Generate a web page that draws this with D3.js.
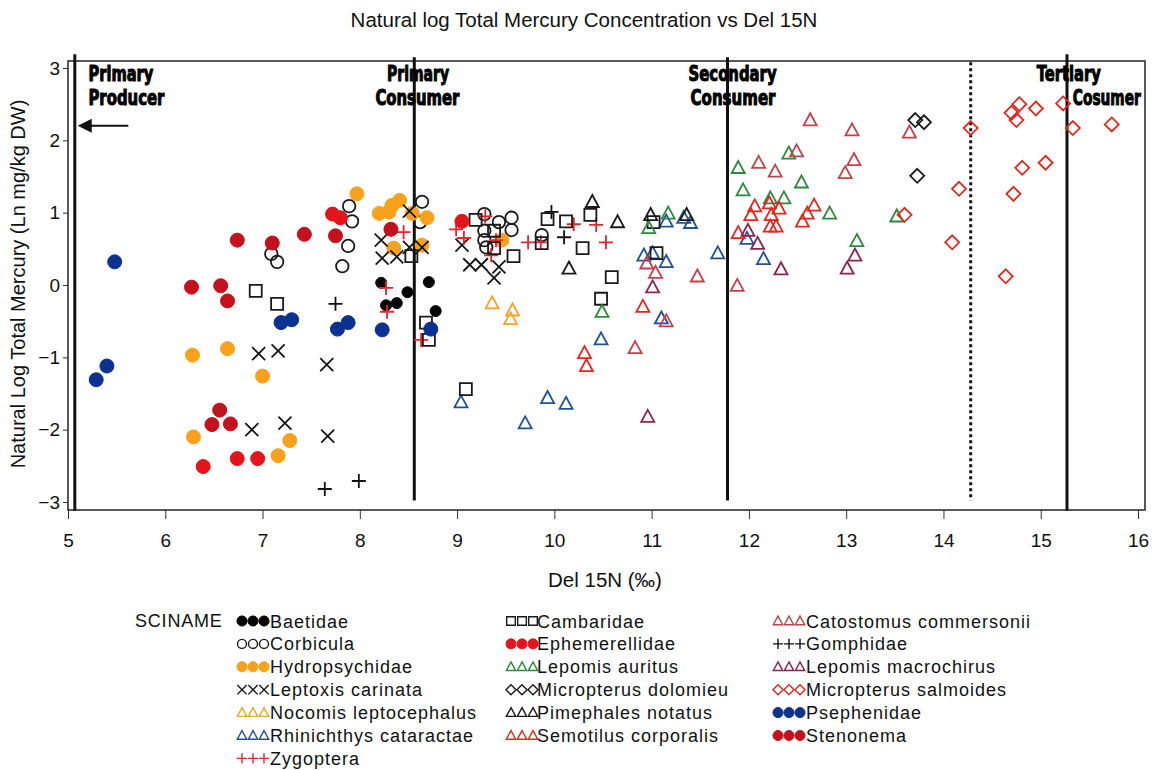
<!DOCTYPE html>
<html>
<head>
<meta charset="utf-8">
<script src="https://cdn.jsdelivr.net/npm/d3@7"></script>
<style>
body { margin: 0; background: #fff; }
text { font-family: "Liberation Sans", Arial, sans-serif; fill: #111; }
</style>
</head>
<body>
<div id="chart"></div>
<script>
// values: [del15N, ln THg]
const baetidae = [[8.22, 0.03], [8.49, -0.10], [8.38, -0.25], [8.27, -0.28], [8.71, 0.04], [8.78, -0.36]]
const corbicula = [[7.09, 0.43], [7.15, 0.32], [7.89, 1.09], [7.92, 0.88], [7.88, 0.54], [7.82, 0.26],
    [8.64, 1.15], [8.62, 0.87], [9.28, 0.98], [9.43, 0.87], [9.56, 0.93], [9.56, 0.76], [9.28, 0.75],
    [9.28, 0.62], [9.30, 0.52], [9.87, 0.69]]
const hydropsychidae = [[6.28, -0.97], [6.64, -0.88], [7.00, -1.26], [6.29, -2.10], [7.28, -2.15], [7.16, -2.36],
    [7.97, 1.26], [8.20, 0.99], [8.33, 1.10], [8.41, 1.17], [8.30, 1.01], [8.54, 0.99], [8.69, 0.93],
    [8.35, 0.51], [8.64, 0.55], [9.46, 0.62]]
const leptoxis = [[6.96, -0.95], [7.16, -0.91], [7.66, -1.10], [6.89, -2.00], [7.23, -1.91], [7.67, -2.09],
    [8.22, 0.62], [8.23, 0.37], [8.38, 0.39], [8.51, 1.02], [8.51, 0.52], [8.64, 0.52], [9.05, 0.55],
    [9.13, 0.28], [9.25, 0.28], [9.43, 0.25], [9.38, 0.10]]
const nocomis = [[9.36, -0.25], [9.57, -0.35], [9.55, -0.47]]
const rhinichthys = [[9.04, -1.62], [9.70, -1.91], [9.93, -1.56], [10.12, -1.64], [10.48, -0.75], [11.15, 0.88],
    [11.33, 0.93], [11.40, 0.86], [10.92, 0.41], [11.01, 0.44], [11.15, 0.32], [11.10, -0.46], [11.68, 0.44],
    [11.98, 0.64], [12.15, 0.36]]
const zygoptera = [[8.27, -0.04], [8.28, -0.37], [8.45, 0.73], [8.99, 0.77], [9.07, 0.65], [9.29, 0.95],
    [9.40, 0.62], [9.35, 0.41], [9.73, 0.59], [9.86, 0.59], [10.20, 0.84], [10.43, 0.83], [10.53, 0.59], [8.63, -0.76]]
const cambaridae = [[6.93, -0.08], [7.15, -0.26], [8.53, 0.40], [8.68, -0.52], [8.71, -0.76], [9.09, -1.44],
    [9.19, 0.90], [9.38, 0.75], [9.38, 0.51], [9.58, 0.40], [9.87, 0.58], [9.93, 0.91], [10.12, 0.88],
    [10.37, 0.97], [10.29, 0.51], [10.59, 0.11], [10.48, -0.19], [11.05, 0.44], [11.02, 0.87]]
const ephemerellidae = [[6.39, -2.51], [6.74, -2.40], [6.95, -2.40], [7.72, 0.98], [7.80, 0.93], [9.05, 0.88]]
const lepomisAuritus = [[10.49, -0.37], [10.97, 0.79], [11.17, 0.99], [11.89, 1.62], [11.94, 1.31], [12.22, 1.20],
    [12.36, 1.20], [12.41, 1.82], [12.54, 1.42], [12.83, 0.99], [13.11, 0.61], [13.52, 0.95]]
const dolomieu = [[13.71, 2.28], [13.80, 2.25], [13.73, 1.51]]
const pimephales = [[10.39, 1.15], [10.65, 0.87], [10.15, 0.23], [10.99, 0.97], [11.36, 0.97]]
const semotilus = [[10.31, -0.94], [10.33, -1.12], [10.91, -0.30], [11.89, 0.72], [12.02, 0.97], [12.06, 1.09],
    [12.21, 1.13], [12.23, 0.97], [12.31, 1.06], [12.22, 0.81], [12.28, 0.81], [12.67, 1.10], [12.60, 0.99], [12.55, 0.88]]
const catostomus = [[12.63, 2.28], [13.06, 2.14], [13.65, 2.11], [12.49, 1.85], [12.10, 1.69], [12.27, 1.57],
    [13.08, 1.73], [12.99, 1.55], [10.95, 0.30], [11.04, 0.17], [11.47, 0.12], [11.88, -0.01], [10.83, -0.87], [11.15, -0.50]]
const gomphidae = [[7.75, -0.26], [7.64, -2.82], [7.99, -2.71], [9.97, 1.01], [10.10, 0.66]]
const macrochirus = [[11.01, -0.03], [11.99, 0.75], [12.09, 0.57], [12.33, 0.22], [13.09, 0.41], [13.01, 0.23], [10.96, -1.82]]
const salmoides = [[14.28, 2.17], [14.16, 1.33], [14.09, 0.59], [13.60, 0.97], [14.78, 2.50], [14.70, 2.38],
    [14.75, 2.28], [14.95, 2.44], [15.23, 2.51], [15.33, 2.17], [15.73, 2.22], [14.81, 1.62], [15.05, 1.69],
    [14.72, 1.26], [14.64, 0.12]]
const psephenidae = [[5.48, 0.32], [5.29, -1.31], [5.40, -1.12], [7.19, -0.52], [7.30, -0.48], [7.77, -0.61],
    [7.88, -0.52], [8.23, -0.62], [8.73, -0.61]]
const stenonema = [[6.74, 0.62], [7.10, 0.58], [7.43, 0.70], [7.75, 0.68], [6.27, -0.03], [6.57, -0.01],
    [6.64, -0.22], [6.56, -1.73], [6.48, -1.93], [6.67, -1.92], [8.32, 0.77]]

const xTicks = [5, 6, 7, 8, 9, 10, 11, 12, 13, 14, 15, 16]
const yTicks = [-3, -2, -1, 0, 1, 2, 3]

// trophic boundaries (x position) and their labels
const boundaries = [
    { x: 5.07, y0: -3.12, y1: 3.19, dotted: false },
    { x: 8.56, y0: -2.98, y1: 3.15, dotted: false },
    { x: 11.78, y0: -2.98, y1: 3.15, dotted: false },
    { x: 14.28, y0: -2.98, y1: 3.08, dotted: true },
    { x: 15.27, y0: -3.12, y1: 3.19, dotted: false }
]
const levelLabels = [
    { text: "Primary", x: 5.21, line: 0, len: 65 },
    { text: "Producer", x: 5.21, line: 1, len: 76 },
    { text: "Primary", x: 8.28, line: 0, len: 62 },
    { text: "Consumer", x: 8.16, line: 1, len: 84 },
    { text: "Secondary", x: 11.38, line: 0, len: 88 },
    { text: "Consumer", x: 11.40, line: 1, len: 85 },
    { text: "Tertiary", x: 14.96, line: 0, len: 64 },
    { text: "Cosumer", x: 15.33, line: 1, len: 68 }
]

// legend order: three columns
const series = [
    { name: "Baetidae", data: baetidae, shape: "circle", fill: true, color: "#050505", col: 0, small: true },
    { name: "Corbicula", data: corbicula, shape: "circle", fill: false, color: "#1a1a1a", col: 0 },
    { name: "Hydropsychidae", data: hydropsychidae, shape: "circle", fill: true, color: "#f9a11b", col: 0 },
    { name: "Leptoxis carinata", data: leptoxis, shape: "x", fill: false, color: "#151515", col: 0 },
    { name: "Nocomis leptocephalus", data: nocomis, shape: "triangle", fill: false, color: "#f2a52c", col: 0 },
    { name: "Rhinichthys cataractae", data: rhinichthys, shape: "triangle", fill: false, color: "#1f5299", col: 0 },
    { name: "Zygoptera", data: zygoptera, shape: "plus", fill: false, color: "#e3262b", col: 0 },
    { name: "Cambaridae", data: cambaridae, shape: "square", fill: false, color: "#1a1a1a", col: 1 },
    { name: "Ephemerellidae", data: ephemerellidae, shape: "circle", fill: true, color: "#e5141c", col: 1 },
    { name: "Lepomis auritus", data: lepomisAuritus, shape: "triangle", fill: false, color: "#2b8a3b", col: 1 },
    { name: "Micropterus dolomieu", data: dolomieu, shape: "diamond", fill: false, color: "#1a1a1a", col: 1 },
    { name: "Pimephales notatus", data: pimephales, shape: "triangle", fill: false, color: "#1a1a1a", col: 1 },
    { name: "Semotilus corporalis", data: semotilus, shape: "triangle", fill: false, color: "#e5261c", col: 1 },
    { name: "Catostomus commersonii", data: catostomus, shape: "triangle", fill: false, color: "#c4414a", col: 2 },
    { name: "Gomphidae", data: gomphidae, shape: "plus", fill: false, color: "#111111", col: 2 },
    { name: "Lepomis macrochirus", data: macrochirus, shape: "triangle", fill: false, color: "#8c2250", col: 2 },
    { name: "Micropterus salmoides", data: salmoides, shape: "diamond", fill: false, color: "#e0281f", col: 2 },
    { name: "Psephenidae", data: psephenidae, shape: "circle", fill: true, color: "#0b3290", col: 2 },
    { name: "Stenonema", data: stenonema, shape: "circle", fill: true, color: "#c3121d", col: 2 }
]

let width = 1158,
    height = 770

let frame = { left: 68, right: 1145, top: 61, bottom: 510 }

let x = d3.scaleLinear().domain([5, 16]).range([68, 1138])
let y = d3.scaleLinear().domain([-3, 3]).range([502, 68])

function markerPath(shape, s) {
    let h = s / 2
    if (shape === "circle") {
        return "M" + (-h) + ",0A" + h + "," + h + " 0 1,0 " + h + ",0A" + h + "," + h + " 0 1,0 " + (-h) + ",0Z"
    }
    if (shape === "triangle") {
        return "M0," + (-h * 1.05) + "L" + h + "," + (h * 0.8) + "L" + (-h) + "," + (h * 0.8) + "Z"
    }
    if (shape === "square") {
        return "M" + (-h) + "," + (-h) + "H" + h + "V" + h + "H" + (-h) + "Z"
    }
    if (shape === "diamond") {
        return "M0," + (-h) + "L" + h + ",0L0," + h + "L" + (-h) + ",0Z"
    }
    if (shape === "plus") {
        return "M" + (-h) + ",0H" + h + "M0," + (-h) + "V" + h
    }
    // x
    return "M" + (-h) + "," + (-h) + "L" + h + "," + h + "M" + (-h) + "," + h + "L" + h + "," + (-h)
}

let plotSize = { circle: 14, circleOpen: 12.5, triangle: 13, square: 12, diamond: 14, plus: 14, x: 13 }

function sizeOf(s, legend) {
    let k = s.shape === "circle" && !s.fill ? "circleOpen" : s.shape
    let v = plotSize[k]
    if (s.small && !legend) v = 11
    return legend ? plotSize[k] * 0.72 : v
}

let svg = d3.select("#chart")
    .append("svg")
    .attr("width", width)
    .attr("height", height)

// title
svg.append("text")
    .attr("x", 584)
    .attr("y", 27)
    .attr("text-anchor", "middle")
    .style("font-size", "20.5px")
    .text("Natural log Total Mercury Concentration vs Del 15N")

// frame
svg.append("rect")
    .attr("x", frame.left)
    .attr("y", frame.top)
    .attr("width", frame.right - frame.left)
    .attr("height", frame.bottom - frame.top)
    .attr("fill", "none")
    .attr("stroke", "#222")
    .attr("stroke-width", 1.5)

// x axis: major + minor ticks
let xAxis = d3.axisBottom(x).tickValues(xTicks).tickSize(9).tickFormat(d3.format("d"))
let xMinor = d3.axisBottom(x).tickValues(d3.range(5, 16.01, 0.2)).tickSize(5).tickFormat("")

let gx = svg.append("g").attr("transform", "translate(0," + frame.bottom + ")")
gx.call(xMinor)
gx.call(xAxis)
gx.selectAll(".domain").remove()
gx.selectAll("text").style("font-size", "19px").attr("dy", "1.3em").attr("fill", "#222")
gx.selectAll("line").attr("stroke", "#333")

let yAxis = d3.axisLeft(y).tickValues(yTicks).tickSize(5).tickFormat(d3.format("d"))
let yMinor = d3.axisLeft(y).tickValues(d3.range(-3, 3.01, 0.25)).tickSize(3).tickFormat("")
let gy = svg.append("g").attr("transform", "translate(" + frame.left + ",0)")
gy.call(yMinor)
gy.call(yAxis)
gy.selectAll(".domain").remove()
gy.selectAll("text").style("font-size", "19px").attr("fill", "#222")
gy.selectAll("line").attr("stroke", "#333")

// axis titles
svg.append("text")
    .attr("x", 605)
    .attr("y", 587)
    .attr("text-anchor", "middle")
    .style("font-size", "20.5px")
    .text("Del 15N (\u2030)")

svg.append("text")
    .attr("transform", "translate(25," + 284 + ") rotate(-90)")
    .attr("text-anchor", "middle")
    .style("font-size", "20px")
    .text("Natural Log Total Mercury (Ln mg/kg DW)")

// trophic level boundaries
svg.append("g")
    .selectAll("line")
    .data(boundaries)
    .enter()
    .append("line")
    .attr("x1", function (d) { return x(d.x) })
    .attr("x2", function (d) { return x(d.x) })
    .attr("y1", function (d) { return y(d.y1) })
    .attr("y2", function (d) { return y(d.y0) })
    .attr("stroke", "#111")
    .attr("stroke-width", 3)
    .attr("stroke-dasharray", function (d) { return d.dotted ? "3,3" : null })

// arrow pointing to the primary producers
svg.append("line")
    .attr("x1", x(5.62)).attr("x2", x(5.2))
    .attr("y1", y(2.2)).attr("y2", y(2.2))
    .attr("stroke", "#111").attr("stroke-width", 2)
svg.append("path")
    .attr("d", "M" + x(5.1) + "," + y(2.2) + "l14,-7l0,14z")
    .attr("fill", "#111")

// points
let groups = svg.append("g")
    .selectAll("g")
    .data(series)
    .enter()
    .append("g")

groups.selectAll("path")
    .data(function (s) { return s.data.map(function (d) { return { s: s, d: d } }) })
    .enter()
    .append("path")
    .attr("transform", function (p) { return "translate(" + x(p.d[0]) + "," + y(p.d[1]) + ")" })
    .attr("d", function (p) { return markerPath(p.s.shape, sizeOf(p.s, false)) })
    .attr("fill", function (p) { return p.s.fill ? p.s.color : "none" })
    .attr("stroke", function (p) { return p.s.color })
    .attr("stroke-width", function (p) { return p.s.fill ? 1 : 1.8 })

// level labels (heavy condensed type): small font stretched vertically
svg.append("g")
    .selectAll("text")
    .data(levelLabels)
    .enter()
    .append("text")
    .attr("transform", function (d) {
        return "translate(" + x(d.x) + "," + (d.line === 0 ? 81 : 105) + ") scale(1,1.4)"
    })
    .attr("textLength", function (d) { return d.len })
    .attr("lengthAdjust", "spacingAndGlyphs")
    .style("font-family", "'DejaVu Sans Condensed', 'DejaVu Sans', sans-serif")
    .style("font-weight", "bold")
    .style("font-size", "15px")
    .style("fill", "#000")
    .style("stroke", "#000")
    .style("stroke-width", 0.7)
    .text(function (d) { return d.text })

// legend
let legendCols = [237, 506, 773]
let legendTextX = [270, 537, 806]
let rowCount = [0, 0, 0]

svg.append("text")
    .attr("x", 135)
    .attr("y", 627)
    .style("font-size", "18px")
    .style("letter-spacing", "0.8px")
    .text("SCINAME")

series.forEach(function (s) {
    let row = rowCount[s.col]++
    let cy = 621 + row * 22.9
    let g = svg.append("g")
    for (let i = 0; i < 3; i++) {
        g.append("path")
            .attr("transform", "translate(" + (legendCols[s.col] + 5 + i * 11) + "," + cy + ")")
            .attr("d", markerPath(s.shape, sizeOf(s, true)))
            .attr("fill", s.fill ? s.color : "none")
            .attr("stroke", s.color)
            .attr("stroke-width", s.fill ? 1 : 1.4)
    }
    g.append("text")
        .attr("x", legendTextX[s.col])
        .attr("y", cy + 6.5)
        .style("font-size", "18px")
        .style("letter-spacing", "1px")
        .text(s.name)
})
</script>
</body>
</html>
